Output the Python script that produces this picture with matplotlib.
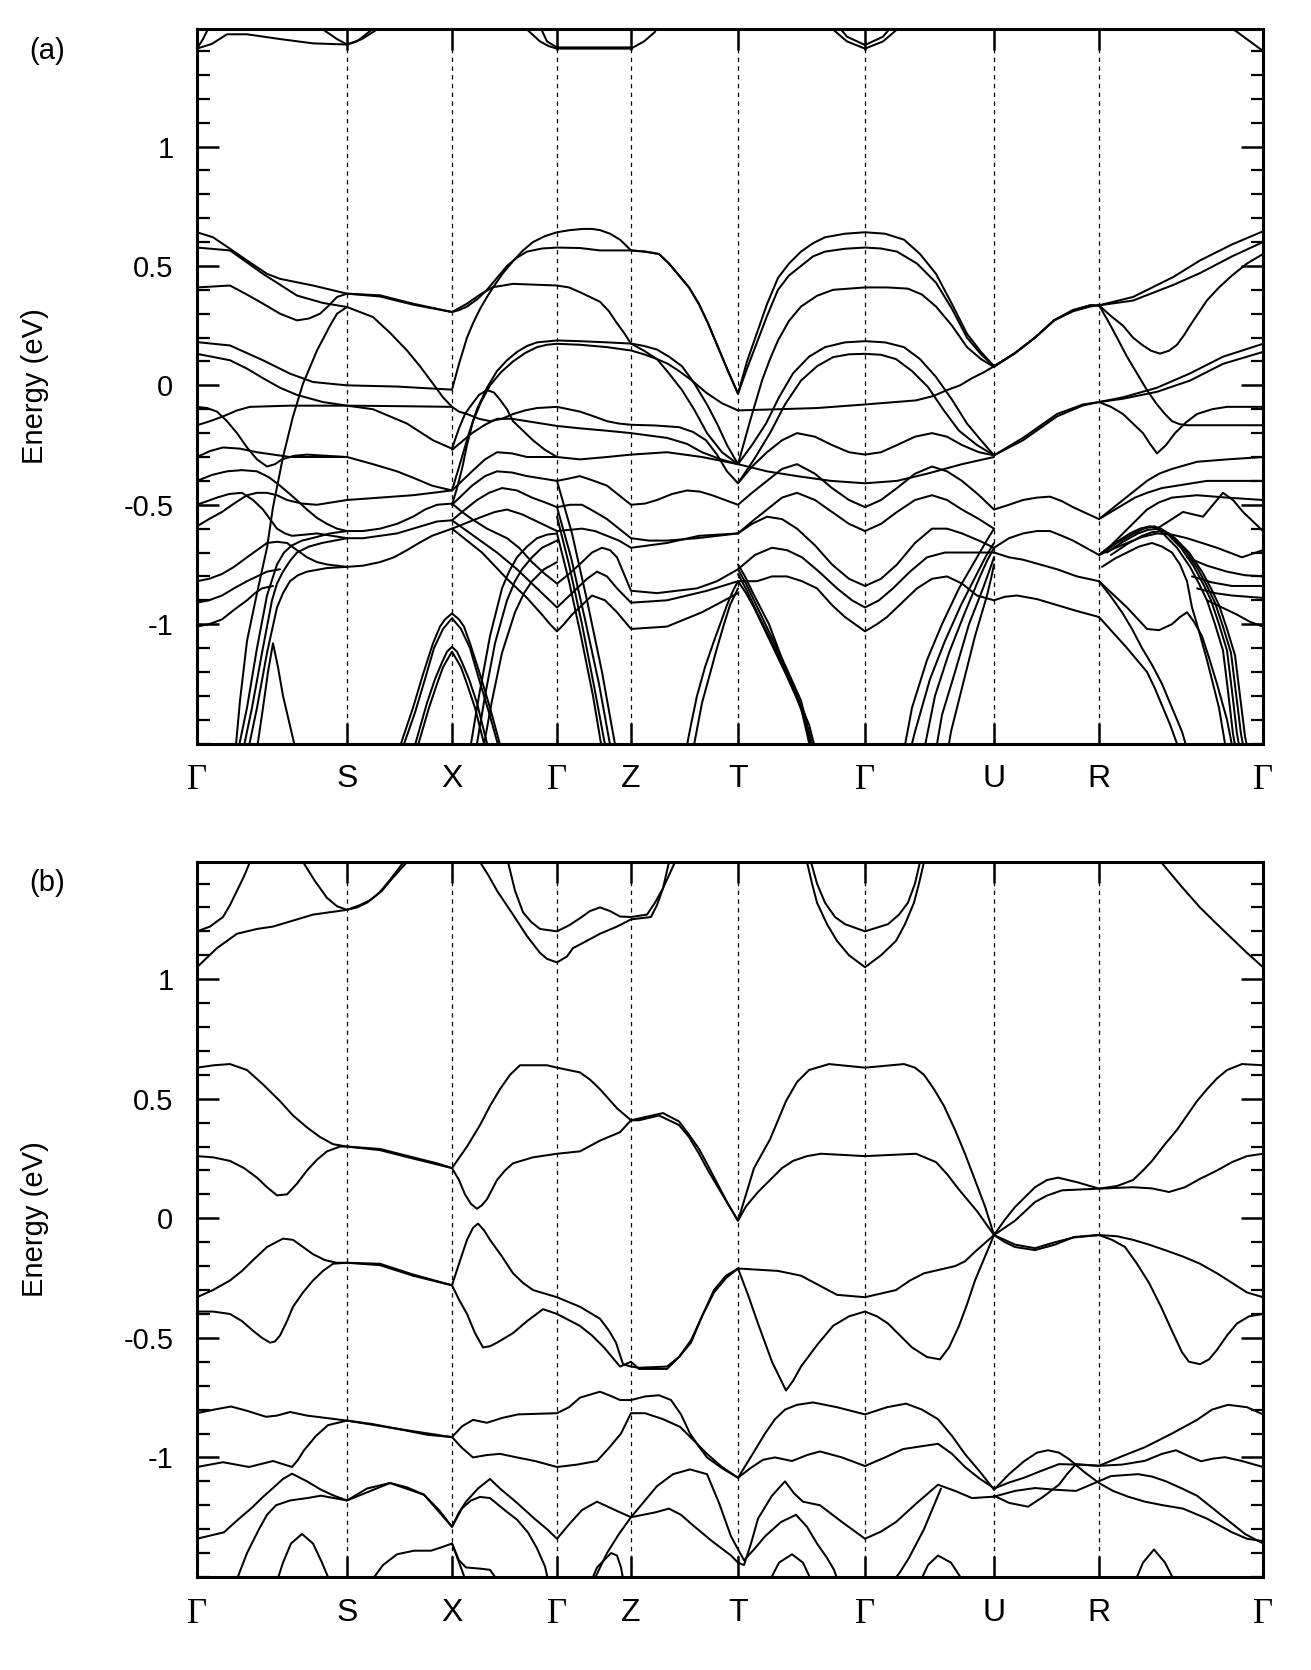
import matplotlib
matplotlib.use("Agg")
import matplotlib.pyplot as plt
from matplotlib.ticker import MultipleLocator

# high symmetry points along the path (path length units)
kpath = [0, 150, 255, 360, 434, 541, 668, 797, 902, 1066]
klabels = ["\u0393", "S", "X", "\u0393", "Z", "T", "\u0393", "U", "R", "\u0393"]
yticks = [-1, -0.5, 0, 0.5, 1]
ytick_labels = ["-1", "-0.5", "0", "0.5", "1"]

# ---------------- panel (a): bands as (k, E) ----------------
a_cond = [
    [(0, 1.41), (15, 1.43), (30, 1.47), (50, 1.47), (83, 1.45), (116, 1.432), (150, 1.427), (165, 1.45), (180, 1.49), (186, 1.53)],
    [(118, 1.53), (126, 1.49), (140, 1.45), (150, 1.427), (160, 1.44), (175, 1.49), (180, 1.53)],
    [(0, 1.41), (6, 1.45), (12, 1.5), (15, 1.53)],
    [(322, 1.53), (330, 1.49), (343, 1.44), (352, 1.42), (360, 1.41), (400, 1.41), (434, 1.41), (447, 1.44), (458, 1.48), (462, 1.53)],
    [(340, 1.53), (350, 1.44), (360, 1.415), (400, 1.415), (434, 1.415)],
    [(628, 1.53), (636, 1.49), (650, 1.44), (668, 1.41), (686, 1.44), (700, 1.49), (707, 1.53)],
    [(636, 1.53), (650, 1.46), (668, 1.425), (686, 1.46), (700, 1.53)],
    [(1022, 1.53), (1040, 1.48), (1066, 1.40)],
]

a_top = [
    [(0, 0.641), (16, 0.62), (33, 0.572), (50, 0.523), (70, 0.467), (83, 0.446), (116, 0.418), (150, 0.384), (183, 0.377),
     (216, 0.342), (255, 0.307), (270, 0.342), (283, 0.38), (296, 0.411), (316, 0.425), (360, 0.418), (372, 0.41), (383, 0.39),
     (393, 0.37), (403, 0.35), (412, 0.31), (420, 0.26), (427, 0.22), (434, 0.175), (447, 0.145), (460, 0.11), (472, 0.05),
     (485, -0.02), (497, -0.10), (510, -0.2), (525, -0.28), (541, -0.33), (555, -0.25), (569, -0.16), (582, -0.05), (596, 0.05),
     (612, 0.12), (628, 0.16), (648, 0.18), (668, 0.185), (688, 0.18), (707, 0.16), (723, 0.11), (739, 0.035), (755, -0.06),
     (770, -0.16), (784, -0.23), (797, -0.293), (812, -0.26), (826, -0.23), (843, -0.18), (860, -0.13), (886, -0.084), (902, -0.07),
     (926, -0.056), (960, -0.027), (993, 0.02), (1026, 0.09), (1066, 0.14)],
    [(0, 0.577), (33, 0.565), (66, 0.467), (100, 0.376), (126, 0.345), (150, 0.328), (176, 0.286), (193, 0.22), (210, 0.146),
     (223, 0.08), (236, 0.007), (246, -0.05), (255, -0.09), (262, -0.11), (270, -0.12), (282, -0.14), (293, -0.15), (305, -0.14),
     (316, -0.12), (328, -0.105), (340, -0.095), (360, -0.09), (383, -0.11), (397, -0.13), (410, -0.15), (422, -0.16),
     (434, -0.165), (458, -0.168), (482, -0.175), (496, -0.195), (509, -0.23), (520, -0.29), (530, -0.36), (541, -0.41),
     (557, -0.31), (573, -0.20), (588, -0.08), (604, 0.02), (620, 0.08), (636, 0.118), (652, 0.13), (668, 0.132), (684, 0.128),
     (699, 0.11), (715, 0.06), (731, -0.007), (746, -0.10), (762, -0.19), (780, -0.25), (797, -0.293), (812, -0.255),
     (826, -0.22), (843, -0.17), (860, -0.12), (886, -0.08), (902, -0.07), (926, -0.05), (960, -0.01), (993, 0.05), (1026, 0.12),
     (1066, 0.174)],
    [(0, 0.41), (33, 0.418), (50, 0.38), (66, 0.342), (83, 0.30), (100, 0.272), (112, 0.28), (123, 0.30), (132, 0.335),
     (140, 0.37), (150, 0.384), (183, 0.372), (216, 0.338), (255, 0.307), (262, 0.315), (270, 0.33), (280, 0.36), (290, 0.40),
     (300, 0.45), (310, 0.50), (320, 0.535), (330, 0.56), (345, 0.573), (360, 0.577), (383, 0.575), (403, 0.565), (434, 0.565),
     (448, 0.56), (462, 0.55), (472, 0.51), (482, 0.46), (492, 0.41), (502, 0.34), (511, 0.26), (521, 0.16), (531, 0.06),
     (541, -0.035), (550, 0.07), (560, 0.18), (570, 0.29), (581, 0.40), (592, 0.46), (604, 0.50), (616, 0.54), (628, 0.56),
     (648, 0.572), (668, 0.577), (684, 0.573), (700, 0.56), (720, 0.51), (739, 0.43), (755, 0.32), (770, 0.2), (784, 0.13),
     (797, 0.08), (818, 0.135), (838, 0.20), (857, 0.272), (876, 0.315), (893, 0.335), (902, 0.335), (936, 0.355), (976, 0.42),
     (1003, 0.47), (1035, 0.54), (1066, 0.60)],
    [(0, 0.181), (33, 0.167), (66, 0.105), (93, 0.049), (116, 0.014), (150, 0.0), (200, -0.005), (255, -0.018), (262, 0.09),
     (270, 0.2), (276, 0.26), (283, 0.32), (290, 0.37), (296, 0.41), (306, 0.47), (316, 0.52), (326, 0.565), (336, 0.60),
     (348, 0.625), (360, 0.641), (373, 0.65), (386, 0.655), (395, 0.655), (403, 0.65), (413, 0.635), (423, 0.61), (428, 0.59),
     (434, 0.565), (448, 0.56), (462, 0.55), (472, 0.51), (482, 0.46), (492, 0.41), (502, 0.34), (511, 0.26), (521, 0.16),
     (531, 0.06), (541, -0.035), (550, 0.10), (560, 0.22), (570, 0.34), (581, 0.45), (592, 0.51), (604, 0.56), (616, 0.595),
     (628, 0.62), (648, 0.635), (668, 0.641), (688, 0.635), (707, 0.61), (723, 0.55), (739, 0.467), (755, 0.34), (770, 0.216),
     (784, 0.14), (797, 0.08), (818, 0.135), (838, 0.20), (857, 0.272), (876, 0.315), (893, 0.335), (902, 0.335), (936, 0.37),
     (976, 0.453), (1003, 0.523), (1035, 0.59), (1066, 0.645)],
    [(255, -0.44), (260, -0.37), (265, -0.30), (272, -0.20), (280, -0.10), (290, -0.01), (300, 0.06), (310, 0.105), (320, 0.14),
     (330, 0.165), (340, 0.18), (360, 0.188), (383, 0.185), (410, 0.18), (434, 0.175), (447, 0.165), (460, 0.15), (472, 0.12),
     (485, 0.08), (497, 0.01), (510, -0.08), (520, -0.16), (530, -0.25), (541, -0.33), (553, -0.15), (565, 0.02), (573, 0.11),
     (581, 0.188), (592, 0.27), (604, 0.33), (620, 0.375), (636, 0.40), (668, 0.41), (690, 0.41), (711, 0.405), (725, 0.38),
     (739, 0.33), (755, 0.25), (770, 0.16), (784, 0.11), (797, 0.077), (818, 0.135), (838, 0.20), (857, 0.272), (876, 0.31),
     (893, 0.33), (902, 0.335), (914, 0.29), (926, 0.25), (936, 0.20), (945, 0.17), (954, 0.145), (963, 0.133), (972, 0.145),
     (980, 0.17), (987, 0.21), (993, 0.25), (1001, 0.30), (1010, 0.356), (1022, 0.41), (1035, 0.46), (1050, 0.51), (1066, 0.55)],
    [(255, -0.50), (260, -0.43), (265, -0.35), (270, -0.25), (276, -0.15), (284, -0.07), (293, 0.0), (304, 0.055), (316, 0.10),
     (328, 0.135), (340, 0.16), (350, 0.17), (360, 0.174), (383, 0.17), (410, 0.16), (434, 0.146), (447, 0.13), (460, 0.11),
     (471, 0.09), (482, 0.06), (495, 0.02), (509, -0.03), (525, -0.075), (541, -0.105), (581, -0.10), (620, -0.095), (668, -0.08),
     (719, -0.063), (736, -0.045), (750, -0.02), (763, 0.0), (775, 0.03), (787, 0.055), (797, 0.08)],
    [(902, 0.335), (911, 0.27), (920, 0.2), (930, 0.12), (940, 0.05), (950, -0.02), (960, -0.08), (968, -0.12), (975, -0.15),
     (983, -0.163), (990, -0.167), (1020, -0.167), (1066, -0.167)],
    [(902, -0.07), (914, -0.09), (926, -0.12), (936, -0.16), (946, -0.2), (953, -0.245), (960, -0.285), (969, -0.25),
     (978, -0.2), (989, -0.155), (1000, -0.12), (1015, -0.10), (1030, -0.09), (1066, -0.09)],
]

a_mid = [
    [(0, -0.167), (13, -0.15), (26, -0.13), (40, -0.105), (53, -0.09), (93, -0.085), (150, -0.085), (200, -0.087), (255, -0.09)],
    [(0, 0.132), (33, 0.105), (50, 0.07), (66, 0.03), (83, -0.01), (100, -0.04), (126, -0.07), (150, -0.085), (176, -0.1),
     (193, -0.13), (210, -0.16), (223, -0.195), (236, -0.23), (255, -0.265), (262, -0.18), (268, -0.12), (273, -0.09),
     (282, -0.04), (290, -0.02), (297, -0.03), (303, -0.06), (310, -0.10), (316, -0.15), (326, -0.19), (336, -0.23),
     (348, -0.27), (360, -0.30), (383, -0.31), (410, -0.30), (434, -0.29), (470, -0.28), (505, -0.30), (541, -0.33),
     (570, -0.36), (600, -0.38), (634, -0.40), (668, -0.41), (700, -0.40), (730, -0.37), (765, -0.33), (797, -0.30)],
    [(0, -0.09), (10, -0.095), (20, -0.11), (30, -0.15), (40, -0.2), (50, -0.26), (60, -0.31), (70, -0.34), (78, -0.33),
     (85, -0.31), (97, -0.295), (110, -0.29), (130, -0.295), (150, -0.30)],
    [(0, -0.30), (13, -0.275), (26, -0.26), (43, -0.265), (60, -0.28), (93, -0.30), (150, -0.30), (176, -0.33), (200, -0.36),
     (218, -0.39), (235, -0.42), (255, -0.44), (265, -0.40), (275, -0.36), (288, -0.31), (300, -0.28), (315, -0.285),
     (330, -0.30), (360, -0.30)],
    [(0, -0.40), (15, -0.375), (30, -0.36), (45, -0.355), (60, -0.36), (72, -0.385), (83, -0.42), (97, -0.47), (110, -0.52),
     (120, -0.555), (130, -0.58), (140, -0.60), (150, -0.61)],
    [(0, -0.50), (10, -0.485), (20, -0.47), (32, -0.455), (45, -0.45), (56, -0.48), (66, -0.52), (73, -0.56), (80, -0.6),
     (88, -0.62), (95, -0.63), (108, -0.625), (120, -0.62), (135, -0.63), (150, -0.64)],
    [(0, -0.59), (12, -0.56), (25, -0.53), (37, -0.495), (50, -0.46), (60, -0.45), (70, -0.45), (80, -0.46), (90, -0.48),
     (105, -0.495), (120, -0.50), (135, -0.49), (150, -0.48), (183, -0.47), (216, -0.46), (255, -0.44)],
    [(255, -0.50), (265, -0.46), (275, -0.42), (288, -0.38), (300, -0.36), (315, -0.365), (330, -0.38), (345, -0.39),
     (360, -0.40), (372, -0.39), (383, -0.38), (397, -0.40), (410, -0.42), (422, -0.46), (434, -0.50), (448, -0.495),
     (460, -0.48), (475, -0.455), (490, -0.44), (503, -0.445), (515, -0.46), (528, -0.48), (541, -0.50), (555, -0.45),
     (570, -0.40), (585, -0.35), (600, -0.33), (618, -0.37), (635, -0.43), (652, -0.48), (668, -0.51), (684, -0.48),
     (700, -0.43), (718, -0.37), (735, -0.34), (750, -0.36), (765, -0.40), (782, -0.46), (797, -0.52), (812, -0.50),
     (826, -0.48), (840, -0.47), (853, -0.466), (865, -0.485), (876, -0.51), (889, -0.535), (902, -0.56), (914, -0.53),
     (926, -0.50), (938, -0.47), (950, -0.45), (965, -0.43), (980, -0.42), (1010, -0.40), (1040, -0.40), (1066, -0.40)],
    [(255, -0.565), (268, -0.52), (280, -0.48), (292, -0.45), (305, -0.43), (320, -0.44), (335, -0.47), (348, -0.49),
     (360, -0.51), (373, -0.50), (385, -0.50), (398, -0.53), (410, -0.56), (422, -0.60), (434, -0.64), (452, -0.65),
     (470, -0.65), (500, -0.64), (541, -0.62), (555, -0.57), (570, -0.52), (585, -0.47), (600, -0.45), (618, -0.48),
     (635, -0.53), (652, -0.58), (668, -0.61), (684, -0.58), (700, -0.53), (718, -0.48), (735, -0.46), (750, -0.48),
     (765, -0.52), (782, -0.56), (797, -0.60)],
    [(255, -0.60), (270, -0.575), (285, -0.55), (298, -0.53), (310, -0.52), (325, -0.54), (340, -0.57), (350, -0.59),
     (360, -0.61), (385, -0.60), (398, -0.61), (410, -0.63), (422, -0.65), (434, -0.68), (452, -0.67), (470, -0.66),
     (502, -0.63), (541, -0.62), (555, -0.58), (570, -0.55), (585, -0.56), (600, -0.60), (618, -0.67), (635, -0.75),
     (652, -0.81), (668, -0.84), (684, -0.81), (700, -0.75), (718, -0.66), (735, -0.60), (750, -0.60), (765, -0.62),
     (782, -0.65), (797, -0.68), (812, -0.64), (826, -0.62), (840, -0.61), (853, -0.61), (865, -0.63), (876, -0.65),
     (889, -0.68), (902, -0.71), (914, -0.67), (926, -0.62), (938, -0.57), (950, -0.52), (962, -0.49), (975, -0.47),
     (1000, -0.46), (1030, -0.47), (1066, -0.48)],
    [(255, -0.27), (265, -0.235), (275, -0.2), (288, -0.165), (300, -0.14), (315, -0.14), (330, -0.15), (360, -0.17),
     (383, -0.18), (410, -0.19), (434, -0.20), (470, -0.22), (490, -0.245), (505, -0.28), (524, -0.31), (541, -0.33)],
    [(541, -0.41), (555, -0.34), (570, -0.28), (585, -0.23), (600, -0.20), (618, -0.215), (635, -0.25), (652, -0.28),
     (668, -0.29), (684, -0.28), (700, -0.25), (718, -0.215), (735, -0.20), (750, -0.215), (765, -0.25), (782, -0.28), (797, -0.293)],
    [(150, -0.61), (166, -0.61), (183, -0.60), (200, -0.58), (216, -0.55), (228, -0.52), (240, -0.50), (255, -0.495)],
    [(150, -0.64), (166, -0.64), (183, -0.63), (200, -0.62), (216, -0.60), (228, -0.585), (240, -0.57), (255, -0.565)],
    [(150, -0.76), (166, -0.755), (183, -0.74), (197, -0.72), (210, -0.69), (222, -0.66), (235, -0.63), (255, -0.60)],
    [(797, -0.70), (812, -0.72), (826, -0.73), (843, -0.75), (860, -0.77), (880, -0.80), (902, -0.82)],
    [(797, -0.90), (808, -0.885), (820, -0.88), (840, -0.895), (860, -0.92), (880, -0.945), (902, -0.97)],
    [(902, -0.56), (914, -0.52), (926, -0.48), (938, -0.44), (950, -0.40), (962, -0.37), (975, -0.35), (1000, -0.32),
     (1030, -0.31), (1066, -0.30)],
    [(960, -0.60), (975, -0.56), (986, -0.53), (996, -0.54), (1006, -0.55), (1016, -0.50), (1026, -0.45), (1036, -0.48),
     (1046, -0.53), (1056, -0.57), (1066, -0.61)],
    [(902, -0.71), (916, -0.685), (930, -0.66), (945, -0.635), (960, -0.62), (975, -0.625), (990, -0.64), (1005, -0.66),
     (1020, -0.68), (1045, -0.72), (1066, -0.69)],
    [(990, -0.72), (1010, -0.755), (1030, -0.78), (1048, -0.795), (1066, -0.80)],
    [(995, -0.80), (1015, -0.825), (1035, -0.84), (1066, -0.84)],
    [(1000, -0.85), (1018, -0.87), (1035, -0.88), (1066, -0.89)],
    [(1010, -0.90), (1025, -0.93), (1040, -0.96), (1053, -0.99), (1066, -1.01)],
]

a_low = [
    [(0, -0.82), (12, -0.81), (25, -0.79), (37, -0.76), (50, -0.72), (60, -0.69), (70, -0.66), (80, -0.655), (90, -0.66),
     (100, -0.69), (110, -0.72), (120, -0.74), (130, -0.75), (150, -0.76)],
    [(0, -0.91), (12, -0.90), (25, -0.88), (37, -0.85), (50, -0.82), (60, -0.80), (70, -0.78), (83, -0.77)],
    [(0, -1.01), (12, -1.0), (25, -0.98), (37, -0.94), (50, -0.90), (58, -0.87), (65, -0.85), (76, -0.84)],
    [(255, -0.495), (265, -0.53), (275, -0.56), (290, -0.60), (310, -0.64), (322, -0.68), (335, -0.74), (348, -0.79),
     (360, -0.83), (372, -0.79), (385, -0.74), (395, -0.70), (405, -0.68), (413, -0.69), (420, -0.72), (427, -0.79),
     (434, -0.86), (460, -0.87), (500, -0.85), (520, -0.82), (541, -0.77), (558, -0.71), (575, -0.68), (590, -0.69),
     (605, -0.72), (622, -0.78), (640, -0.85), (655, -0.90), (668, -0.93), (682, -0.90), (696, -0.85), (713, -0.78),
     (730, -0.72), (748, -0.70), (765, -0.70), (797, -0.70)],
    [(255, -0.565), (280, -0.64), (300, -0.70), (320, -0.77), (330, -0.81), (340, -0.85), (350, -0.89), (360, -0.93),
     (370, -0.89), (380, -0.85), (390, -0.81), (400, -0.78), (410, -0.80), (420, -0.85), (427, -0.88), (434, -0.91),
     (470, -0.90), (510, -0.86), (541, -0.82), (560, -0.82), (575, -0.80), (590, -0.80), (605, -0.82), (620, -0.85),
     (635, -0.92), (648, -0.97), (668, -1.03), (680, -1.0), (690, -0.97), (705, -0.91), (720, -0.85), (735, -0.81),
     (750, -0.80), (765, -0.83), (780, -0.88), (797, -0.90)],
    [(255, -0.60), (285, -0.70), (310, -0.81), (330, -0.89), (345, -0.96), (353, -1.0), (360, -1.03), (367, -1.0),
     (375, -0.96), (385, -0.92), (395, -0.88), (408, -0.90), (420, -0.95), (434, -1.02), (470, -1.01), (505, -0.95), (541, -0.87)],
]

a_steep = [
    # Gamma-S bundle rising from the bottom
    [(40, -1.55), (50, -1.35), (60, -1.1), (70, -0.88), (80, -0.75), (87, -0.70), (95, -0.67), (105, -0.65), (115, -0.64),
     (133, -0.62), (150, -0.61)],
    [(45, -1.55), (55, -1.35), (65, -1.12), (75, -0.9), (80, -0.83), (86, -0.78), (93, -0.735), (100, -0.70), (112, -0.675),
     (125, -0.66), (150, -0.64)],
    [(50, -1.55), (60, -1.35), (70, -1.12), (80, -0.93), (86, -0.87), (93, -0.82), (101, -0.795), (110, -0.78), (130, -0.765),
     (150, -0.76)],
    [(38, -1.55), (43, -1.32), (50, -1.07), (60, -0.87), (70, -0.68), (76, -0.51), (86, -0.30), (96, -0.13), (106, 0.007),
     (120, 0.146), (133, 0.25), (140, 0.30), (150, 0.328)],
    [(59, -1.55), (66, -1.35), (71, -1.2), (76, -1.08), (81, -1.18), (86, -1.3), (100, -1.55)],
    # X inverted parabolas
    [(200, -1.55), (216, -1.35), (226, -1.21), (236, -1.08), (243, -1.01), (248, -0.98), (255, -0.955), (262, -0.98),
     (267, -1.01), (273, -1.08), (283, -1.21), (293, -1.35), (306, -1.55)],
    [(203, -1.55), (218, -1.37), (228, -1.23), (237, -1.10), (246, -1.02), (255, -0.975), (264, -1.02), (273, -1.10),
     (282, -1.23), (292, -1.37), (304, -1.55)],
    [(215, -1.55), (230, -1.33), (238, -1.23), (245, -1.16), (250, -1.115), (255, -1.095), (260, -1.115), (265, -1.16),
     (272, -1.23), (280, -1.33), (293, -1.55)],
    [(218, -1.55), (232, -1.35), (240, -1.25), (246, -1.18), (255, -1.115), (264, -1.18), (270, -1.25), (278, -1.35), (290, -1.55)],
    # X-Gamma bundle
    [(272, -1.55), (282, -1.3), (293, -1.05), (305, -0.85), (312, -0.78), (320, -0.72), (330, -0.675), (340, -0.64),
     (350, -0.625), (360, -0.62)],
    [(278, -1.55), (288, -1.3), (298, -1.08), (310, -0.9), (318, -0.82), (325, -0.77), (335, -0.72), (345, -0.68), (360, -0.65)],
    [(285, -1.55), (295, -1.32), (305, -1.12), (318, -0.95), (327, -0.87), (335, -0.82), (347, -0.77), (360, -0.74)],
    # Gamma-Z bundle going down
    [(360, -0.40), (375, -0.62), (390, -0.9), (405, -1.2), (420, -1.55)],
    [(360, -0.51), (374, -0.72), (388, -0.98), (402, -1.25), (415, -1.55)],
    [(360, -0.55), (372, -0.75), (385, -1.0), (398, -1.28), (410, -1.55)],
    [(360, -0.62), (372, -0.82), (384, -1.05), (396, -1.3), (406, -1.55)],
    # T inverted V and bundle
    [(488, -1.55), (494, -1.42), (500, -1.30), (508, -1.18), (517, -1.07), (524, -0.99), (530, -0.92), (536, -0.86),
     (541, -0.82), (549, -0.87), (557, -0.93), (565, -1.0), (573, -1.07), (589, -1.21), (604, -1.35), (615, -1.55)],
    [(495, -1.55), (505, -1.33), (520, -1.10), (527, -1.0), (533, -0.92), (541, -0.85)],
    [(541, -0.77), (549, -0.83), (557, -0.90), (573, -1.04), (589, -1.18), (604, -1.32), (618, -1.55)],
    [(541, -0.79), (550, -0.86), (560, -0.95), (578, -1.10), (595, -1.25), (612, -1.42), (620, -1.55)],
    [(541, -0.75), (548, -0.80), (556, -0.87), (572, -1.0), (590, -1.2), (608, -1.4), (616, -1.55)],
    # Gamma-U bundle
    [(797, -0.60), (789, -0.655), (780, -0.72), (762, -0.85), (745, -1.0), (730, -1.15), (715, -1.35), (706, -1.55)],
    [(797, -0.66), (789, -0.715), (781, -0.78), (764, -0.92), (748, -1.07), (733, -1.23), (718, -1.45), (712, -1.55)],
    [(797, -0.68), (790, -0.735), (783, -0.8), (768, -0.95), (752, -1.12), (738, -1.3), (726, -1.55)],
    [(797, -0.72), (792, -0.78), (786, -0.85), (772, -1.0), (758, -1.2), (745, -1.38), (738, -1.55)],
    [(797, -0.75), (794, -0.81), (790, -0.88), (778, -1.05), (766, -1.25), (754, -1.45), (750, -1.55)],
    # R-Gamma domes and steep lines
    [(902, -0.71), (918, -0.66), (933, -0.62), (943, -0.60), (953, -0.59), (960, -0.60), (966, -0.62), (980, -0.68),
     (993, -0.76), (1002, -0.83), (1010, -0.90), (1018, -1.0), (1026, -1.11), (1031, -1.28), (1036, -1.46), (1040, -1.55)],
    [(906, -0.70), (922, -0.655), (937, -0.62), (947, -0.60), (957, -0.59), (964, -0.60), (970, -0.62), (984, -0.68),
     (997, -0.76), (1006, -0.83), (1014, -0.90), (1022, -1.0), (1030, -1.11), (1035, -1.28), (1040, -1.46), (1044, -1.55)],
    [(910, -0.70), (926, -0.655), (941, -0.62), (951, -0.605), (961, -0.60), (968, -0.61), (974, -0.63), (988, -0.69),
     (1001, -0.77), (1010, -0.84), (1018, -0.91), (1026, -1.01), (1034, -1.12), (1039, -1.29), (1044, -1.46), (1048, -1.55)],
    [(914, -0.71), (930, -0.665), (945, -0.63), (955, -0.615), (965, -0.61), (972, -0.62), (978, -0.64), (992, -0.70),
     (1005, -0.78), (1014, -0.85), (1022, -0.92), (1030, -1.02), (1038, -1.13), (1043, -1.30), (1048, -1.47), (1052, -1.55)],
    [(902, -0.82), (916, -0.875), (930, -0.93), (940, -0.975), (950, -1.02), (962, -1.025), (975, -1.0), (983, -0.97),
     (990, -0.95), (997, -0.99), (1005, -1.05), (1012, -1.14), (1020, -1.25), (1030, -1.4), (1037, -1.55)],
    [(902, -0.97), (916, -1.035), (930, -1.1), (940, -1.15), (950, -1.2), (958, -1.27), (966, -1.35), (973, -1.42),
     (980, -1.5), (983, -1.55)],
    [(902, -0.82), (914, -0.885), (925, -0.95), (935, -1.02), (945, -1.1), (955, -1.17), (965, -1.25), (975, -1.35),
     (985, -1.45), (992, -1.55)],
    [(905, -0.76), (918, -0.725), (930, -0.70), (942, -0.675), (955, -0.66), (965, -0.675), (975, -0.70), (983, -0.75),
     (990, -0.82), (995, -0.93), (1000, -1.0), (1010, -1.15), (1022, -1.35), (1030, -1.55)],
]

# ---------------- panel (b) ----------------
b_cond = [
    [(0, 1.05), (20, 1.13), (40, 1.19), (60, 1.21), (76, 1.22), (96, 1.245), (116, 1.27), (150, 1.29), (163, 1.31), (173, 1.33),
     (185, 1.37), (195, 1.42), (210, 1.49), (216, 1.53)],
    [(98, 1.53), (106, 1.49), (118, 1.41), (130, 1.34), (140, 1.305), (150, 1.29), (160, 1.30), (170, 1.32), (182, 1.36), (192, 1.41), (214, 1.53)],
    [(0, 1.20), (13, 1.22), (26, 1.26), (33, 1.31), (40, 1.37), (47, 1.43), (53, 1.49), (56, 1.53)],
    [(278, 1.53), (283, 1.49), (292, 1.43), (300, 1.37), (308, 1.32), (316, 1.27), (330, 1.18), (343, 1.11), (350, 1.085),
     (360, 1.07), (370, 1.095), (376, 1.13), (383, 1.145), (403, 1.19), (420, 1.22), (434, 1.25), (454, 1.26), (460, 1.31),
     (466, 1.38), (472, 1.49), (474, 1.53)],
    [(308, 1.53), (311, 1.49), (318, 1.37), (326, 1.28), (334, 1.24), (343, 1.21), (360, 1.20), (372, 1.225), (383, 1.255),
     (393, 1.285), (403, 1.30), (413, 1.285), (423, 1.262), (434, 1.26), (450, 1.27), (458, 1.32), (466, 1.38), (478, 1.49), (481, 1.53)],
    [(606, 1.53), (610, 1.49), (615, 1.40), (620, 1.32), (630, 1.23), (640, 1.16), (652, 1.10), (668, 1.05), (684, 1.10),
     (699, 1.16), (708, 1.23), (717, 1.32), (722, 1.40), (727, 1.49), (730, 1.53)],
    [(611, 1.53), (614, 1.49), (620, 1.40), (628, 1.32), (638, 1.26), (648, 1.23), (668, 1.20), (691, 1.23), (702, 1.27),
     (711, 1.32), (718, 1.40), (723, 1.49), (726, 1.53)],
    [(961, 1.53), (964, 1.49), (984, 1.39), (1003, 1.30), (1020, 1.23), (1035, 1.17), (1050, 1.11), (1066, 1.05)],
]

b_val = [
    [(0, 0.63), (17, 0.64), (33, 0.645), (50, 0.62), (66, 0.56), (83, 0.49), (96, 0.43), (110, 0.38), (123, 0.34), (136, 0.31),
     (150, 0.30), (183, 0.29), (216, 0.255), (240, 0.23), (255, 0.21), (260, 0.24), (270, 0.30), (283, 0.39), (293, 0.47),
     (303, 0.54), (313, 0.60), (323, 0.64), (350, 0.64), (360, 0.63), (383, 0.61), (393, 0.58), (403, 0.54), (420, 0.46),
     (434, 0.41), (450, 0.425), (466, 0.44), (482, 0.405), (492, 0.35), (502, 0.29), (511, 0.22), (521, 0.14), (531, 0.06),
     (541, -0.01), (549, 0.10), (557, 0.21), (565, 0.27), (573, 0.33), (581, 0.41), (589, 0.49), (600, 0.57), (612, 0.62),
     (632, 0.645), (668, 0.63), (707, 0.645), (718, 0.63), (727, 0.60), (737, 0.54), (747, 0.47), (758, 0.37), (768, 0.27),
     (778, 0.16), (788, 0.05), (797, -0.07)],
    [(0, 0.26), (16, 0.255), (33, 0.24), (47, 0.21), (60, 0.17), (70, 0.13), (80, 0.096), (90, 0.10), (100, 0.145), (110, 0.20),
     (120, 0.245), (130, 0.28), (143, 0.30), (150, 0.30), (183, 0.285), (216, 0.25), (255, 0.21), (262, 0.16), (268, 0.10),
     (274, 0.06), (280, 0.04), (285, 0.055), (290, 0.08), (300, 0.16), (308, 0.20), (316, 0.23), (336, 0.255), (360, 0.27),
     (383, 0.28), (403, 0.325), (423, 0.36), (434, 0.41), (442, 0.41), (462, 0.43), (482, 0.39), (492, 0.34), (502, 0.27),
     (511, 0.20), (521, 0.13), (531, 0.06), (541, -0.01), (549, 0.05), (561, 0.11), (573, 0.16), (585, 0.21), (596, 0.24),
     (610, 0.26), (624, 0.27), (668, 0.26), (719, 0.27), (739, 0.235), (750, 0.185), (762, 0.12), (780, 0.03), (797, -0.07)],
    [(797, -0.07), (808, -0.005), (818, 0.047), (838, 0.13), (850, 0.16), (861, 0.17), (881, 0.15), (902, 0.124), (920, 0.135),
     (936, 0.16), (946, 0.20), (955, 0.24), (968, 0.31), (980, 0.37), (990, 0.43), (1000, 0.49), (1010, 0.54), (1020, 0.585),
     (1030, 0.62), (1045, 0.645), (1066, 0.64)],
    [(797, -0.07), (818, -0.01), (838, 0.068), (850, 0.095), (865, 0.117), (902, 0.124), (936, 0.13), (955, 0.125), (972, 0.11),
     (988, 0.13), (1003, 0.165), (1020, 0.20), (1035, 0.235), (1050, 0.26), (1066, 0.27)],
    [(797, -0.07), (808, -0.10), (818, -0.12), (838, -0.133), (858, -0.11), (877, -0.078), (902, -0.07), (920, -0.075),
     (936, -0.09), (952, -0.11), (968, -0.133), (986, -0.16), (1003, -0.19), (1020, -0.23), (1035, -0.27), (1050, -0.31), (1066, -0.33)],
    [(797, -0.07), (818, -0.11), (838, -0.125), (858, -0.10), (877, -0.08), (902, -0.07), (915, -0.09), (928, -0.12), (940, -0.19),
     (952, -0.27), (964, -0.37), (976, -0.48), (985, -0.56), (992, -0.60), (1003, -0.61), (1012, -0.59), (1020, -0.55),
     (1030, -0.49), (1040, -0.44), (1052, -0.41), (1066, -0.40)],
    [(0, -0.33), (16, -0.30), (33, -0.26), (45, -0.22), (56, -0.175), (70, -0.12), (86, -0.085), (96, -0.09), (106, -0.12),
     (116, -0.15), (128, -0.175), (140, -0.186), (150, -0.186), (183, -0.196), (216, -0.24), (240, -0.265), (255, -0.28),
     (262, -0.19), (270, -0.09), (276, -0.04), (281, -0.022), (287, -0.05), (293, -0.09), (305, -0.16), (316, -0.23),
     (326, -0.27), (336, -0.30), (360, -0.33), (383, -0.37), (403, -0.42), (412, -0.47), (419, -0.52), (426, -0.61),
     (434, -0.62), (442, -0.625), (470, -0.62), (482, -0.58), (494, -0.51), (505, -0.41), (517, -0.30), (529, -0.24),
     (541, -0.21), (581, -0.22), (604, -0.24), (622, -0.28), (640, -0.32), (668, -0.33), (699, -0.30), (713, -0.26),
     (727, -0.23), (758, -0.20), (768, -0.18), (778, -0.14), (797, -0.07)],
    [(0, -0.39), (16, -0.39), (33, -0.40), (45, -0.43), (56, -0.47), (65, -0.50), (73, -0.52), (78, -0.515), (83, -0.49),
     (90, -0.43), (96, -0.37), (106, -0.31), (116, -0.26), (126, -0.22), (136, -0.19), (150, -0.186), (183, -0.19), (216, -0.235),
     (255, -0.28), (262, -0.34), (270, -0.40), (278, -0.48), (286, -0.54), (293, -0.535), (300, -0.52), (316, -0.48),
     (330, -0.43), (346, -0.38), (360, -0.40), (383, -0.45), (395, -0.49), (407, -0.54), (415, -0.58), (423, -0.62),
     (434, -0.60), (442, -0.63), (470, -0.63), (482, -0.58), (494, -0.52), (505, -0.41), (517, -0.31), (529, -0.25),
     (541, -0.21), (551, -0.32), (561, -0.44), (575, -0.60), (589, -0.72), (596, -0.68), (604, -0.62), (620, -0.53),
     (636, -0.45), (652, -0.41), (668, -0.39), (680, -0.41), (691, -0.44), (703, -0.49), (715, -0.54), (730, -0.58),
     (743, -0.59), (752, -0.54), (762, -0.45), (770, -0.36), (778, -0.26), (788, -0.16), (797, -0.07)],
]

b_deep = [
    [(0, -0.815), (17, -0.80), (34, -0.787), (50, -0.805), (69, -0.83), (80, -0.825), (93, -0.81), (110, -0.825), (131, -0.836),
     (150, -0.846), (175, -0.86), (200, -0.88), (230, -0.905), (255, -0.915), (265, -0.87), (276, -0.843), (290, -0.855),
     (305, -0.835), (321, -0.82), (360, -0.815), (372, -0.79), (383, -0.75), (403, -0.725), (415, -0.745), (423, -0.76),
     (434, -0.76), (448, -0.745), (462, -0.74), (474, -0.76), (484, -0.82), (493, -0.90), (502, -0.955), (510, -1.0),
     (525, -1.045), (541, -1.085), (555, -0.99), (568, -0.90), (578, -0.84), (588, -0.80), (600, -0.78), (616, -0.77),
     (640, -0.79), (668, -0.82), (690, -0.79), (709, -0.775), (725, -0.80), (741, -0.84), (755, -0.91), (768, -0.986),
     (783, -1.06), (797, -1.135)],
    [(0, -1.04), (26, -1.02), (52, -1.04), (76, -1.015), (95, -1.04), (101, -1.01), (107, -0.97), (119, -0.91), (131, -0.865),
     (150, -0.846), (200, -0.88), (255, -0.915), (265, -0.96), (276, -1.0), (290, -0.99), (303, -0.985), (320, -1.0),
     (338, -1.015), (360, -1.04), (380, -1.03), (400, -1.015), (412, -0.96), (424, -0.90), (434, -0.815), (448, -0.815),
     (466, -0.84), (483, -0.872), (497, -0.93), (510, -0.985), (525, -1.04), (541, -1.085), (554, -1.043), (566, -1.01),
     (578, -1.0), (595, -1.015), (610, -0.99), (623, -0.975), (645, -1.0), (668, -1.036), (688, -1.0), (706, -0.965),
     (741, -0.943), (755, -0.985), (768, -1.04), (783, -1.09), (797, -1.128)],
    [(0, -1.34), (27, -1.313), (41, -1.26), (55, -1.21), (66, -1.165), (76, -1.128), (86, -1.09), (95, -1.068), (110, -1.10),
     (124, -1.135), (137, -1.16), (150, -1.18), (170, -1.13), (193, -1.107), (210, -1.125), (227, -1.156), (242, -1.22),
     (255, -1.29), (262, -1.23), (269, -1.185), (281, -1.13), (293, -1.09), (303, -1.13), (320, -1.19), (338, -1.258),
     (350, -1.30), (360, -1.34), (372, -1.28), (385, -1.22), (400, -1.185), (418, -1.22), (434, -1.25), (458, -1.23),
     (472, -1.214), (484, -1.24), (496, -1.284), (515, -1.35), (534, -1.41), (541, -1.44), (547, -1.45), (554, -1.36),
     (561, -1.256), (575, -1.16), (588, -1.10), (597, -1.15), (606, -1.185), (623, -1.2), (645, -1.27), (668, -1.34),
     (684, -1.31), (699, -1.27), (720, -1.19), (741, -1.114), (758, -1.14), (775, -1.17), (797, -1.164)],
    [(38, -1.53), (50, -1.40), (62, -1.30), (70, -1.24), (79, -1.20), (93, -1.18), (110, -1.17), (124, -1.16), (150, -1.18),
     (193, -1.107), (227, -1.156), (255, -1.29), (265, -1.213), (274, -1.18), (283, -1.165), (293, -1.17), (310, -1.228),
     (320, -1.26), (331, -1.314), (340, -1.38), (348, -1.456), (352, -1.53)],
    [(395, -1.53), (410, -1.40), (422, -1.32), (434, -1.25), (448, -1.18), (460, -1.12), (476, -1.07), (493, -1.05), (510, -1.07),
     (522, -1.19), (534, -1.33), (547, -1.43), (558, -1.38), (568, -1.33), (584, -1.27), (599, -1.24), (610, -1.29),
     (620, -1.36), (630, -1.42), (637, -1.47), (642, -1.53)],
    [(393, -1.53), (400, -1.46), (407, -1.43), (414, -1.40), (420, -1.41), (424, -1.46), (427, -1.53)],
    [(172, -1.53), (186, -1.45), (200, -1.405), (217, -1.39), (234, -1.39), (245, -1.375), (255, -1.36), (262, -1.43),
     (269, -1.46), (283, -1.465), (293, -1.47), (303, -1.53)],
    [(255, -1.36), (263, -1.45), (270, -1.53)],
    [(79, -1.53), (86, -1.44), (94, -1.36), (105, -1.32), (116, -1.36), (125, -1.44), (134, -1.53)],
    [(571, -1.53), (582, -1.44), (595, -1.405), (606, -1.44), (616, -1.53)],
    [(722, -1.53), (731, -1.45), (741, -1.41), (754, -1.44), (768, -1.53)],
    [(694, -1.53), (703, -1.48), (712, -1.42), (727, -1.30), (744, -1.13)],
    [(797, -1.135), (812, -1.07), (827, -1.016), (840, -0.98), (851, -0.97), (862, -0.98), (872, -1.007), (887, -1.06),
     (902, -1.107), (916, -1.14), (931, -1.164), (948, -1.185), (966, -1.20), (986, -1.214), (1010, -1.256), (1035, -1.313),
     (1050, -1.34), (1066, -1.35)],
    [(797, -1.13), (812, -1.105), (827, -1.085), (845, -1.055), (862, -1.028), (880, -1.03), (902, -1.035), (925, -0.995),
     (948, -0.957), (975, -0.90), (1000, -0.843), (1015, -0.80), (1031, -0.78), (1050, -0.79), (1066, -0.82)],
    [(797, -1.16), (812, -1.19), (831, -1.206), (846, -1.165), (862, -1.114), (870, -1.07), (879, -1.028), (902, -1.035),
     (925, -1.03), (948, -1.014), (965, -0.985), (979, -0.97), (992, -0.995), (1004, -1.016), (1016, -1.005), (1028, -0.999),
     (1045, -1.015), (1066, -1.04)],
    [(797, -1.164), (818, -1.14), (838, -1.128), (858, -1.135), (879, -1.14), (896, -1.11), (914, -1.078), (941, -1.07),
     (955, -1.08), (969, -1.10), (985, -1.13), (1000, -1.16), (1015, -1.21), (1030, -1.26), (1048, -1.32), (1066, -1.36)],
    [(937, -1.53), (946, -1.44), (957, -1.385), (968, -1.44), (979, -1.53)],
]


def draw_bands(ax, groups):
    for group in groups:
        for line in group:
            k, e = zip(*line)
            ax.plot(k, e, color="black", lw=1.45, solid_joinstyle="round", solid_capstyle="round")


def style_panel(ax):
    ax.set_xlim(kpath[0], kpath[-1])
    ax.set_ylim(-1.5, 1.49)
    for kk in kpath[1:-1]:
        ax.axvline(kk, color="black", lw=0.9, ls=(0, (3.5, 3.5)), zorder=0)
    ax.set_xticks(kpath)
    ax.set_xticklabels(klabels)
    for lab in ax.get_xticklabels():
        if lab.get_text() == "\u0393":
            lab.set_family("Liberation Serif")
            lab.set_fontsize(25)
        else:
            lab.set_family("Liberation Sans")
            lab.set_fontsize(23)
    ax.tick_params(axis="x", direction="in", length=15, width=1.8, top=True, bottom=True, pad=15)
    ax.set_yticks(yticks)
    ax.set_yticklabels(ytick_labels, family="Liberation Sans", fontsize=21)
    ax.yaxis.set_minor_locator(MultipleLocator(0.1))
    ax.tick_params(axis="y", which="major", direction="in", length=16, width=1.8, left=True, right=True, pad=17)
    ax.tick_params(axis="y", which="minor", direction="in", length=9, width=1.6, left=True, right=True)
    for sp in ax.spines.values():
        sp.set_linewidth(2.2)


fig = plt.figure(figsize=(13.11, 16.70), dpi=100)
ax_a = fig.add_axes([197 / 1311, 1 - 743.6 / 1670, 1066 / 1311, (743.6 - 29.5) / 1670])
ax_b = fig.add_axes([197 / 1311, 1 - 1577 / 1670, 1066 / 1311, (1577 - 862) / 1670])

draw_bands(ax_a, [a_cond, a_top, a_mid, a_low, a_steep])
draw_bands(ax_b, [b_cond, b_val, b_deep])
style_panel(ax_a)
style_panel(ax_b)

for ax, tag, ty in [(ax_a, "(a)", 51), (ax_b, "(b)", 883)]:
    pos = ax.get_position()
    fig.text(35 / 1311, (pos.y0 + pos.y1) / 2, "Energy (eV)", rotation=90, ha="center", va="center",
             family="Liberation Sans", fontsize=21)
    fig.text(47 / 1311, 1 - ty / 1670, tag, ha="center", va="center", family="Liberation Sans", fontsize=21)

fig.savefig("out.png", dpi=100)
